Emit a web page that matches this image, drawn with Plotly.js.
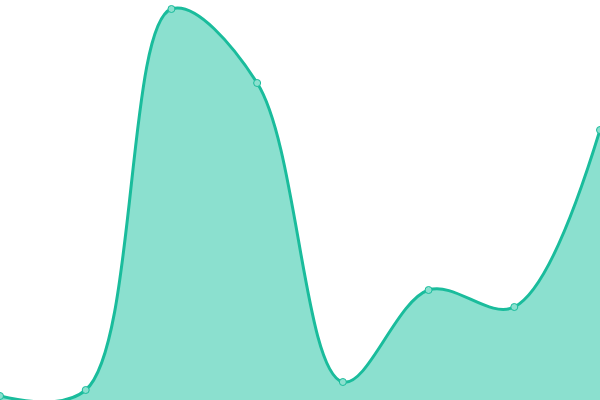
<!DOCTYPE html>
<html>
<head>
<meta charset="utf-8">
<script src="https://cdn.plot.ly/plotly-3.0.1.min.js"></script>
<style>body{margin:0;background:#fff}#chart{width:600px;height:400px}</style>
</head>
<body>
<div id="chart"></div>
<script>
var xs = [0, 1, 2, 3, 4, 5, 6, 7];
var values = [4, 10, 391, 317, 18, 110, 93, 270];

var trace = {
    x: xs,
    y: values,
    type: 'scatter',
    mode: 'lines+markers',
    fill: 'tozeroy',
    fillcolor: '#8be0cf',
    line: {color: '#1abc9c', width: 3, shape: 'spline', smoothing: 1},
    marker: {size: 7, color: '#8be0cf', line: {color: '#1abc9c', width: 1}}
};

var layout = {
    width: 600,
    height: 400,
    margin: {l: 0, r: 0, t: 0, b: 0},
    showlegend: false,
    paper_bgcolor: '#fff',
    plot_bgcolor: '#fff',
    xaxis: {range: [0, 7], visible: false, fixedrange: true},
    yaxis: {range: [0, 400], visible: false, fixedrange: true}
};

Plotly.newPlot('chart', [trace], layout, {displayModeBar: false, staticPlot: true});
</script>
</body>
</html>
